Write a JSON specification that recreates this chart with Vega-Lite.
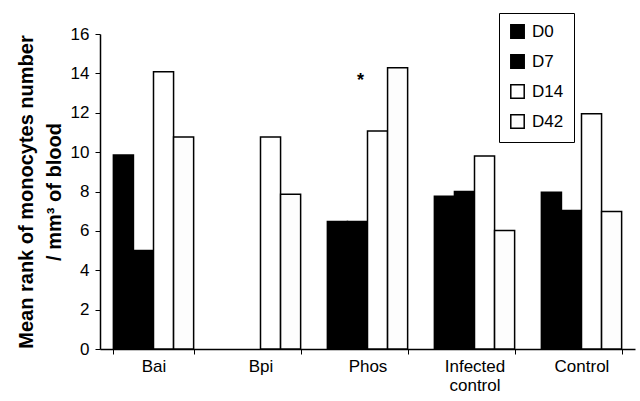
{
  "$schema": "https://vega.github.io/schema/vega-lite/v6.json",
  "width": 535,
  "height": 315,
  "autosize": "none",
  "padding": {"left": 100, "top": 34, "right": 5, "bottom": 52},
  "background": "white",
  "config": {
    "font": "Liberation Sans",
    "view": {"stroke": null},
    "axis": {"domainColor": "black", "tickColor": "black", "labelColor": "black", "titleColor": "black", "grid": false}
  },
  "datasets": {
    "bars": [
      {"group": "Bai", "series": "D0", "value": 9.85},
      {"group": "Bai", "series": "D7", "value": 5.0},
      {"group": "Bai", "series": "D14", "value": 14.08},
      {"group": "Bai", "series": "D42", "value": 10.77},
      {"group": "Bpi", "series": "D14", "value": 10.77},
      {"group": "Bpi", "series": "D42", "value": 7.86},
      {"group": "Phos", "series": "D0", "value": 6.48},
      {"group": "Phos", "series": "D7", "value": 6.48},
      {"group": "Phos", "series": "D14", "value": 11.07},
      {"group": "Phos", "series": "D42", "value": 14.29},
      {"group": "Infected control", "series": "D0", "value": 7.76},
      {"group": "Infected control", "series": "D7", "value": 8.0},
      {"group": "Infected control", "series": "D14", "value": 9.8},
      {"group": "Infected control", "series": "D42", "value": 6.02},
      {"group": "Control", "series": "D0", "value": 7.96},
      {"group": "Control", "series": "D7", "value": 7.04},
      {"group": "Control", "series": "D14", "value": 11.95},
      {"group": "Control", "series": "D42", "value": 6.99}
    ],
    "notes": [
      {"group": "Phos", "series": "D7", "value": 13.6, "label": "*"}
    ]
  },
  "encoding": {
    "x": {
      "field": "group", "type": "nominal",
      "sort": ["Bai", "Bpi", "Phos", "Infected control", "Control"],
      "scale": {"paddingInner": 0.25, "paddingOuter": 0.125},
      "axis": {
        "title": null, "labelAngle": 0, "labelFontSize": 17, "labelPadding": 4,
        "tickBand": "extent", "tickSize": 5, "domainWidth": 1.5,
        "labelExpr": "datum.value == 'Infected control' ? ['Infected', 'control'] : datum.value",
        "labelLineHeight": 19
      }
    },
    "xOffset": {
      "field": "series", "type": "nominal",
      "sort": ["D0", "D7", "D14", "D42"],
      "scale": {"paddingInner": 0, "paddingOuter": 0}
    },
    "y": {
      "field": "value", "type": "quantitative",
      "scale": {"domain": [0, 16], "nice": false},
      "axis": {
        "title": ["Mean rank of monocytes number", "/ mm³ of blood"],
        "titleFontSize": 20, "titleFontWeight": "bold", "titleLineHeight": 28, "titlePadding": 6,
        "values": [0, 2, 4, 6, 8, 10, 12, 14, 16], "labelOverlap": false,
        "labelFontSize": 17, "labelPadding": 6, "tickSize": 5, "domainWidth": 1.5
      }
    }
  },
  "layer": [
    {
      "data": {"name": "bars"},
      "mark": {"type": "bar", "stroke": "black", "strokeWidth": 1.5},
      "encoding": {
        "fill": {
          "field": "series", "type": "nominal",
          "sort": ["D0", "D7", "D14", "D42"],
          "scale": {"domain": ["D0", "D7", "D14", "D42"], "range": ["#000000", "#000000", "#ffffff", "#fdfdfd"]},
          "legend": {
            "title": null, "orient": "none", "legendX": 399, "legendY": -21,
            "strokeColor": "black", "padding": 10, "symbolType": "square", "symbolSize": 180,
            "symbolStrokeColor": "black", "symbolStrokeWidth": 1.5, "labelFontSize": 17,
            "rowPadding": 9, "labelOffset": 6
          }
        }
      }
    },
    {
      "data": {"name": "notes"},
      "mark": {"type": "text", "fontSize": 18, "fontWeight": "bold", "baseline": "middle", "align": "center", "dx": 3},
      "encoding": {
        "text": {"field": "label"}
      }
    }
  ]
}
